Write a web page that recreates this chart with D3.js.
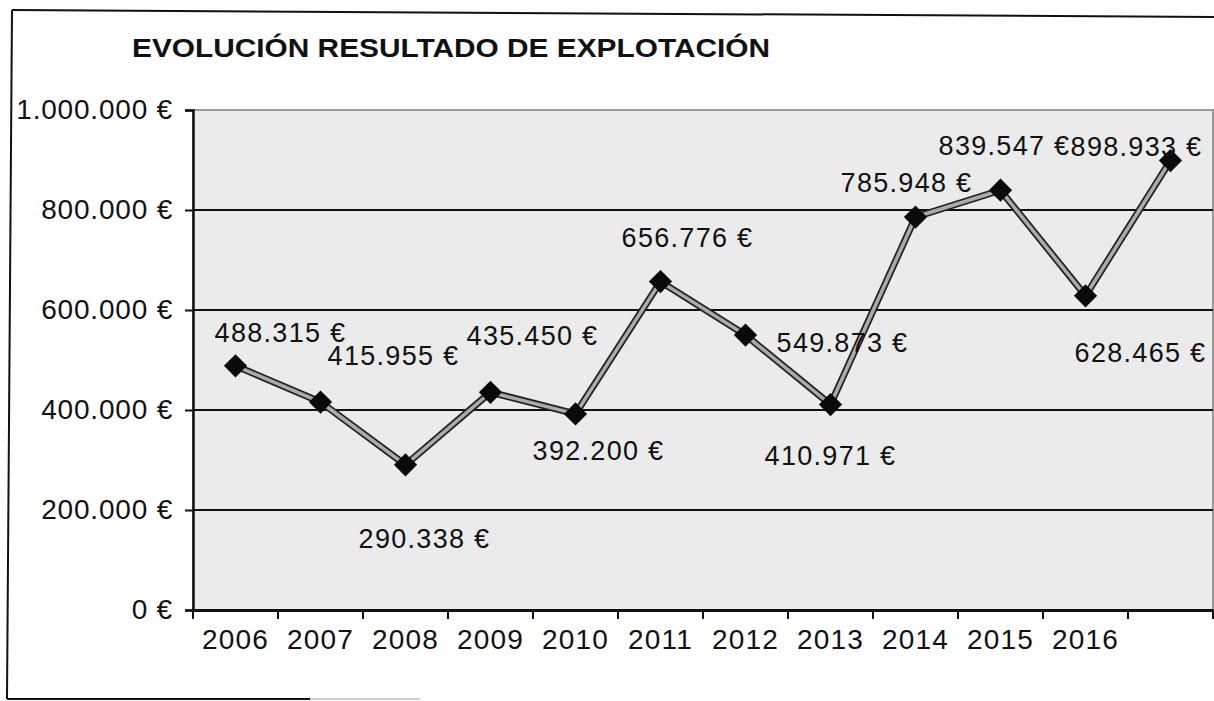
<!DOCTYPE html>
<html>
<head>
<meta charset="utf-8">
<script src="https://cdn.jsdelivr.net/npm/d3@7"></script>
<style>
  html, body { margin: 0; padding: 0; background: #fff; }
  svg { display: block; font-family: 'Liberation Sans', Arial, sans-serif; }
</style>
</head>
<body>
<div class="container"></div>
<script>
// data
const years = ['2006', '2007', '2008', '2009', '2010', '2011', '2012', '2013', '2014', '2015', '2016', ''];
const values = [488315, 415955, 290338, 435450, 392200, 656776, 549873, 410971, 785948, 839547, 628465, 898933];
const yTicks = [0, 200000, 400000, 600000, 800000, 1000000];
const title = 'EVOLUCIÓN  RESULTADO DE EXPLOTACIÓN';

// where each data label sits relative to its point (centre x, baseline y)
const labelOffsets = [
  [45, -24], [73, -37], [19, 83], [42, -47], [23, 46], [27, -35],
  [97, 17], [0, 60], [-9, -25], [4, -35], [55, 66], [-34, -5],
];

const width = 1214;
const height = 701;
const plot = { left: 193, right: 1213, top: 110, bottom: 610 };

// spanish style thousands: 1.000.000 €
const fmt = (v) => d3.format(',')(v).replace(/,/g, '.') + ' €';

const svg = d3.select('.container')
  .append('svg')
  .attr('width', width)
  .attr('height', height);

const x = d3.scaleBand()
  .domain(d3.range(values.length))
  .range([plot.left, plot.right])
  .padding(0);

const y = d3.scaleLinear()
  .domain([0, 1000000])
  .range([plot.bottom, plot.top]);

// outer frame of the scanned page (slightly skewed)
const frame = svg.append('g').attr('stroke', '#111').attr('fill', 'none');
frame.append('line').attr('x1', 12).attr('y1', 10).attr('x2', 1214).attr('y2', 17).attr('stroke-width', 2);
frame.append('line').attr('x1', 12).attr('y1', 10).attr('x2', 7).attr('y2', 699).attr('stroke-width', 2);
frame.append('line').attr('x1', 7).attr('y1', 699).attr('x2', 310).attr('y2', 699).attr('stroke-width', 2);
frame.append('line').attr('x1', 310).attr('y1', 699).attr('x2', 420).attr('y2', 699)
  .attr('stroke', '#999').attr('stroke-width', 1);

// title
svg.append('text')
  .attr('x', 132)
  .attr('y', 57)
  .attr('font-size', 25)
  .attr('font-weight', 'bold')
  .attr('textLength', 638)
  .attr('lengthAdjust', 'spacingAndGlyphs')
  .attr('fill', '#111')
  .text(title);

// plot area: stippled grey background with grey border
svg.append('rect')
  .attr('x', plot.left)
  .attr('y', plot.top)
  .attr('width', plot.right - plot.left)
  .attr('height', plot.bottom - plot.top)
  .attr('fill', '#ebebeb')
  .attr('stroke', '#9a9a9a')
  .attr('stroke-width', 2);

// gridlines
svg.append('g')
  .selectAll('line')
  .data(yTicks.filter((t) => t > 0 && t < 1000000))
  .join('line')
  .attr('x1', plot.left)
  .attr('x2', plot.right)
  .attr('y1', (d) => y(d))
  .attr('y2', (d) => y(d))
  .attr('stroke', '#111')
  .attr('stroke-width', 2);

// y axis
const yAxis = svg.append('g')
  .attr('transform', `translate(${plot.left},0)`)
  .call(d3.axisLeft(y).tickValues(yTicks).tickFormat(fmt).tickSize(8).tickPadding(12));
yAxis.select('.domain').attr('stroke', '#111').attr('stroke-width', 2.5);
yAxis.selectAll('.tick line').attr('stroke', '#111').attr('stroke-width', 2);
yAxis.selectAll('.tick text')
  .attr('font-size', 28)
  .attr('letter-spacing', 0.8)
  .attr('font-family', "'Liberation Sans', Arial, sans-serif")
  .attr('fill', '#111');

// x axis: labels at band centres, ticks at band edges
const xAxis = svg.append('g')
  .attr('transform', `translate(0,${plot.bottom})`)
  .call(d3.axisBottom(x).tickFormat((i) => years[i]).tickSize(0).tickPadding(19));
xAxis.select('.domain').attr('stroke', '#111').attr('stroke-width', 3);
xAxis.selectAll('.tick text')
  .attr('font-size', 28)
  .attr('letter-spacing', 1.2)
  .attr('font-family', "'Liberation Sans', Arial, sans-serif")
  .attr('fill', '#111');
xAxis.append('g')
  .selectAll('line')
  .data(d3.range(values.length + 1))
  .join('line')
  .attr('x1', (i) => (i < values.length ? x(i) : plot.right))
  .attr('x2', (i) => (i < values.length ? x(i) : plot.right))
  .attr('y1', 0)
  .attr('y2', 9)
  .attr('stroke', '#111')
  .attr('stroke-width', 2);

// series line: grey core with dark edges
const cx = (i) => x(i) + x.bandwidth() / 2;
const line = d3.line().x((d, i) => cx(i)).y((d) => y(d));

svg.append('path')
  .datum(values)
  .attr('d', line)
  .attr('fill', 'none')
  .attr('stroke', '#222')
  .attr('stroke-width', 7)
  .attr('stroke-linejoin', 'round');
svg.append('path')
  .datum(values)
  .attr('d', line)
  .attr('fill', 'none')
  .attr('stroke', '#ababab')
  .attr('stroke-width', 3.5)
  .attr('stroke-linejoin', 'round');

// diamond markers
svg.append('g')
  .selectAll('path')
  .data(values)
  .join('path')
  .attr('d', d3.symbol(d3.symbolSquare, 270))
  .attr('transform', (d, i) => `translate(${cx(i)},${y(d)}) rotate(45)`)
  .attr('fill', '#0a0a0a');

// data labels
svg.append('g')
  .selectAll('text')
  .data(values)
  .join('text')
  .attr('x', (d, i) => cx(i) + labelOffsets[i][0])
  .attr('y', (d, i) => y(d) + labelOffsets[i][1])
  .attr('text-anchor', 'middle')
  .attr('font-size', 27)
  .attr('letter-spacing', 1.3)
  .attr('fill', '#111')
  .text(fmt);
</script>
</body>
</html>
